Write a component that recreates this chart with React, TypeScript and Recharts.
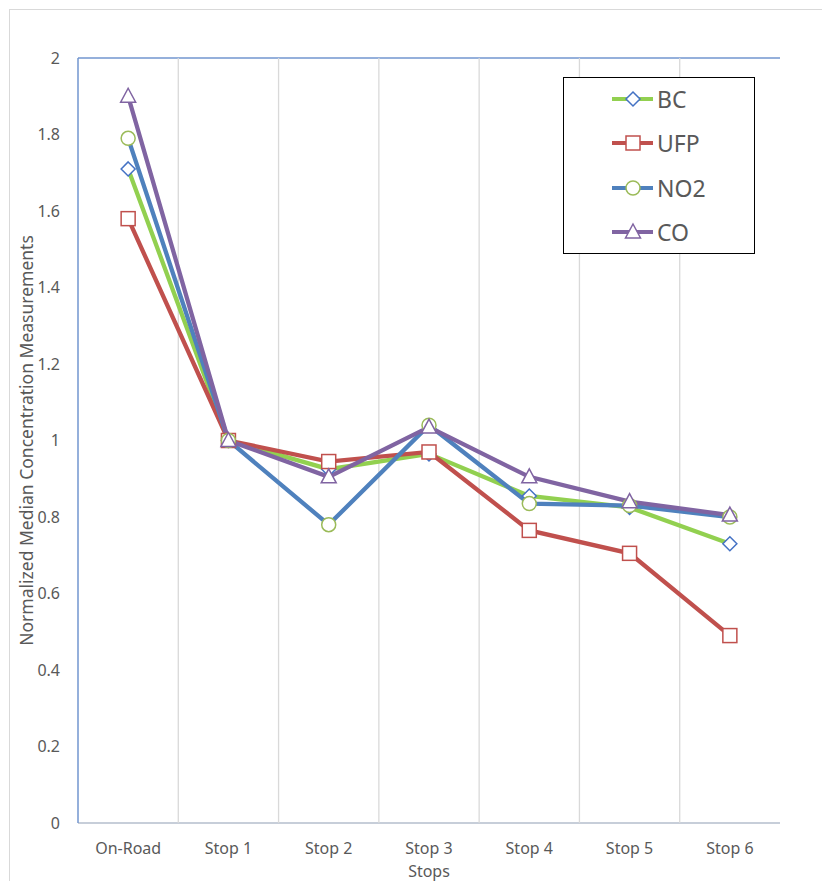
import {
  ComposedChart,
  Line,
  XAxis,
  YAxis,
  CartesianGrid,
  Legend,
} from "recharts";

const stops = ["On-Road", "Stop 1", "Stop 2", "Stop 3", "Stop 4", "Stop 5", "Stop 6"];
const bc = [1.71, 1.0, 0.925, 0.965, 0.855, 0.825, 0.73];
const ufp = [1.58, 1.0, 0.945, 0.97, 0.765, 0.705, 0.49];
const no2 = [1.79, 1.0, 0.78, 1.04, 0.835, 0.83, 0.8];
const co = [1.9, 1.0, 0.905, 1.035, 0.905, 0.84, 0.805];
const yTicks = [0, 0.2, 0.4, 0.6, 0.8, 1, 1.2, 1.4, 1.6, 1.8, 2];

const data = stops.map((s, i) => ({
  stop: s,
  BC: bc[i],
  UFP: ufp[i],
  NO2: no2[i],
  CO: co[i],
}));

const font = "'Noto Sans', 'Open Sans', sans-serif";
const textColor = "#595959";
const gridBlue = "#7296cf";

type Marker = "diamond" | "square" | "circle" | "triangle";

const series = [
  { key: "BC", line: "#92d050", marker: "diamond" as Marker, markerColor: "#4472c4" },
  { key: "UFP", line: "#c0504d", marker: "square" as Marker, markerColor: "#c0504d" },
  { key: "NO2", line: "#4f81bd", marker: "circle" as Marker, markerColor: "#9bbb59" },
  { key: "CO", line: "#8064a2", marker: "triangle" as Marker, markerColor: "#8064a2" },
];

function shape(kind: Marker, cx: number, cy: number, color: string, key?: string) {
  const common = { fill: "#fff", stroke: color, strokeWidth: 1.5 };
  if (kind === "diamond") {
    return (
      <path key={key} d={`M${cx},${cy - 7} L${cx + 7},${cy} L${cx},${cy + 7} L${cx - 7},${cy} Z`} {...common} />
    );
  }
  if (kind === "square") {
    return <rect key={key} x={cx - 7} y={cy - 7} width={14} height={14} {...common} />;
  }
  if (kind === "circle") {
    return <circle key={key} cx={cx} cy={cy} r={7} {...common} />;
  }
  return (
    <path key={key} d={`M${cx},${cy - 8} L${cx + 7.5},${cy + 6} L${cx - 7.5},${cy + 6} Z`} {...common} />
  );
}

const renderLegend = () => (
  <div
    style={{
      width: 190,
      height: 175,
      border: "1px solid #000",
      background: "#fff",
      fontFamily: font,
      fontSize: 23,
      color: textColor,
    }}
  >
    <div style={{ marginTop: -1 }}>
      {series.map((s) => (
        <div key={s.key} style={{ display: "flex", alignItems: "center", height: 44.3 }}>
          <svg width={92} height={20} style={{ flexShrink: 0 }}>
            <line x1={48} y1={10} x2={89} y2={10} stroke={s.line} strokeWidth={4} />
            {shape(s.marker, 69, 10, s.markerColor)}
          </svg>
          <span style={{ marginLeft: 1 }}>{s.key}</span>
        </div>
      ))}
    </div>
  </div>
);

const verticalLines = ({ offset }: any) => {
  const out: number[] = [];
  for (let i = 1; i < stops.length; i++) out.push(offset.left + (i * offset.width) / stops.length);
  return out;
};

export default function App() {
  return (
    <div style={{ position: "relative", width: 822, height: 873 }}>
      <div
        style={{
          position: "absolute",
          left: 1,
          top: 1,
          width: 821,
          height: 872,
          borderLeft: "1px solid #d9d9d9",
          borderTop: "1px solid #d9d9d9",
        }}
      />
      <div style={{ position: "absolute", left: 0, top: 0 }}>
        <ComposedChart
          width={822}
          height={873}
          data={data}
          margin={{ top: 50, right: 50, bottom: 8, left: 10 }}
        >
          <CartesianGrid
            vertical={false}
            stroke={gridBlue}
            strokeWidth={1.3}
          />
          <CartesianGrid
            horizontal={false}
            stroke="#d9d9d9"
            strokeWidth={1.3}
            verticalCoordinatesGenerator={verticalLines}
          />
          <XAxis
            dataKey="stop"
            scale="band"
            height={50}
            tickSize={0}
            tickMargin={20}
            axisLine={{ stroke: "#d9d9d9", strokeWidth: 1.5 }}
            tick={{ fill: textColor, fontSize: 16, fontFamily: font }}
            interval={0}
            label={{
              value: "Stops",
              position: "insideBottom",
              offset: -4,
              fill: textColor,
              fontSize: 16,
              fontFamily: font,
            }}
          />
          <YAxis
            yAxisId="left"
            domain={[0, 2]}
            ticks={yTicks}
            width={60}
            tickSize={0}
            tickMargin={18}
            axisLine={{ stroke: gridBlue, strokeWidth: 1.5 }}
            tick={{ fill: textColor, fontSize: 16, fontFamily: font }}
            label={{
              value: "Normalized Median Concentration Measurements",
              angle: -90,
              position: "insideLeft",
              offset: 9,
              style: { textAnchor: "middle" },
              fill: textColor,
              fontSize: 17.5,
              fontFamily: font,
            }}
          />
          <YAxis
            yAxisId="right"
            orientation="right"
            domain={[0, 2]}
            width={0}
            tick={false}
            tickLine={false}
            axisLine={{ stroke: gridBlue, strokeWidth: 1.5 }}
          />
          {series.map((s) => (
            <Line
              key={s.key}
              yAxisId="left"
              type="linear"
              dataKey={s.key}
              stroke={s.line}
              strokeWidth={4.3}
              isAnimationActive={false}
              dot={(p: any) => shape(s.marker, p.cx, p.cy, s.markerColor, `${s.key}-${p.index}`)}
              activeDot={false}
            />
          ))}
          <Legend
            layout="vertical"
            align="center"
            verticalAlign="middle"
            content={renderLegend}
            wrapperStyle={{ position: "absolute", left: 555, top: 69, width: 192, height: 177 }}
          />
        </ComposedChart>
      </div>
    </div>
  );
}
